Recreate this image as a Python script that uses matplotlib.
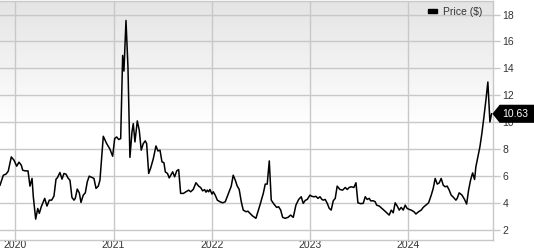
import matplotlib
matplotlib.use("Agg")
import matplotlib.pyplot as plt
import numpy as np
from matplotlib.patches import Polygon, Rectangle
from matplotlib.transforms import blended_transform_factory

# weekly price readings (decimal year, $)
years = [
    2019.844, 2019.878, 2019.905, 2019.928, 2019.959, 2019.986, 2020.014, 2020.037,
    2020.061, 2020.075, 2020.101, 2020.129, 2020.149, 2020.170, 2020.183, 2020.207,
    2020.228, 2020.244, 2020.264, 2020.299, 2020.322, 2020.346, 2020.370, 2020.393,
    2020.414, 2020.427, 2020.454, 2020.475, 2020.495, 2020.515, 2020.539, 2020.556,
    2020.576, 2020.597, 2020.610, 2020.630, 2020.651, 2020.668, 2020.691, 2020.712,
    2020.732, 2020.752, 2020.780, 2020.800, 2020.821, 2020.844, 2020.861, 2020.895,
    2020.927, 2020.963, 2020.990, 2021.011, 2021.031, 2021.052, 2021.072, 2021.092,
    2021.105, 2021.126, 2021.146, 2021.166, 2021.187, 2021.200, 2021.217, 2021.241,
    2021.261, 2021.281, 2021.302, 2021.322, 2021.336, 2021.357, 2021.377, 2021.404,
    2021.431, 2021.451, 2021.472, 2021.492, 2021.512, 2021.526, 2021.548, 2021.566,
    2021.584, 2021.601, 2021.621, 2021.642, 2021.662, 2021.682, 2021.711, 2021.736,
    2021.764, 2021.784, 2021.810, 2021.838, 2021.865, 2021.886, 2021.906, 2021.926,
    2021.940, 2021.953, 2021.967, 2021.980, 2022.001, 2022.014, 2022.034, 2022.055,
    2022.082, 2022.110, 2022.136, 2022.171, 2022.197, 2022.217, 2022.238, 2022.258,
    2022.278, 2022.299, 2022.319, 2022.347, 2022.367, 2022.387, 2022.415, 2022.448,
    2022.469, 2022.489, 2022.523, 2022.543, 2022.563, 2022.584, 2022.604, 2022.631,
    2022.659, 2022.679, 2022.700, 2022.720, 2022.746, 2022.774, 2022.801, 2022.828,
    2022.855, 2022.883, 2022.909, 2022.929, 2022.950, 2022.970, 2022.998, 2023.018,
    2023.038, 2023.059, 2023.079, 2023.100, 2023.120, 2023.133, 2023.153, 2023.174,
    2023.194, 2023.214, 2023.235, 2023.255, 2023.275, 2023.303, 2023.330, 2023.357,
    2023.377, 2023.397, 2023.418, 2023.445, 2023.466, 2023.486, 2023.513, 2023.540,
    2023.560, 2023.580, 2023.601, 2023.615, 2023.642, 2023.662, 2023.676, 2023.703,
    2023.730, 2023.757, 2023.784, 2023.804, 2023.825, 2023.845, 2023.865, 2023.886,
    2023.906, 2023.926, 2023.947, 2023.967, 2023.987, 2024.008, 2024.028, 2024.056,
    2024.076, 2024.103, 2024.130, 2024.150, 2024.178, 2024.205, 2024.232, 2024.252,
    2024.272, 2024.293, 2024.313, 2024.333, 2024.354, 2024.374, 2024.394, 2024.415,
    2024.435, 2024.455, 2024.483, 2024.496, 2024.516, 2024.544, 2024.571, 2024.592,
    2024.612, 2024.632, 2024.653, 2024.673, 2024.686, 2024.707, 2024.727, 2024.747,
    2024.768, 2024.788, 2024.808, 2024.829, 2024.846,
]
prices = [
    5.33, 6.07, 6.15, 6.37, 7.43, 7.19, 6.74, 7.04,
    6.81, 6.44, 6.39, 6.39, 5.26, 5.83, 4.47, 2.81,
    3.60, 3.24, 3.73, 4.35, 3.78, 4.22, 4.22, 4.52,
    5.78, 5.87, 6.27, 5.78, 6.20, 6.15, 5.83, 5.70,
    4.42, 4.22, 4.35, 5.04, 4.76, 4.05, 4.59, 4.76,
    5.58, 6.00, 5.90, 5.83, 5.09, 5.26, 5.70, 8.96,
    8.45, 8.00, 7.48, 8.79, 8.91, 8.72, 8.79, 14.96,
    13.80, 17.56, 14.10, 7.39, 9.28, 9.90, 8.54, 10.10,
    9.41, 7.93, 8.42, 8.62, 8.42, 6.20, 6.60, 7.30,
    8.24, 7.87, 7.93, 7.06, 7.00, 6.32, 6.20, 5.87,
    6.10, 6.32, 5.95, 6.39, 6.49, 4.72, 4.72, 4.84,
    4.96, 4.84, 5.01, 5.51, 5.26, 5.15, 4.91, 5.00,
    4.81, 4.96, 4.84, 5.01, 4.67, 4.84, 4.59, 4.22,
    4.10, 4.02, 4.10, 4.76, 5.26, 6.07, 5.70, 5.26,
    5.01, 4.10, 3.48, 3.36, 3.40, 3.24, 3.04, 2.87,
    3.36, 3.85, 4.72, 5.41, 5.41, 7.13, 4.22, 3.93,
    3.68, 3.73, 3.48, 2.94, 2.87, 2.94, 3.11, 2.94,
    3.85, 4.27, 4.47, 3.98, 4.20, 4.27, 4.59, 4.50,
    4.47, 4.50, 4.35, 4.47, 4.27, 4.22, 4.27, 3.98,
    3.61, 3.48, 4.17, 4.35, 5.26, 5.01, 4.96, 5.16,
    5.01, 5.16, 5.21, 5.16, 5.51, 4.02, 3.96, 3.98,
    4.47, 4.27, 4.35, 4.17, 4.17, 4.10, 3.85, 3.78,
    3.61, 3.43, 3.24, 3.11, 3.48, 3.28, 4.02, 3.78,
    3.48, 3.68, 3.48, 3.85, 3.60, 3.53, 3.48, 3.36,
    3.19, 3.36, 3.48, 3.68, 3.85, 4.02, 4.59, 5.09,
    5.83, 5.41, 5.50, 5.83, 5.33, 5.21, 5.26, 4.96,
    4.59, 4.45, 4.22, 4.35, 4.76, 4.60, 4.27, 3.93,
    4.96, 5.70, 6.24, 5.75, 6.69, 7.43, 8.17, 9.16,
    10.39, 11.63, 12.99, 10.02, 10.63,
]
year_ticks = [2020, 2021, 2022, 2023, 2024]
price_ticks = [2, 4, 6, 8, 10, 12, 14, 16, 18]
last_price = 10.63

plt.rcParams["font.family"] = ["Liberation Sans", "DejaVu Sans"]
grid_col = "#c8c8c8"
text_col = "#333333"

fig = plt.figure(figsize=(5.34, 2.5), dpi=100)
ax = fig.add_axes([0.0, 0.04, 0.9226, 0.958])
ax.set_xlim(2019.844, 2024.857)
ax.set_ylim(1.26, 19.04)

# grey-to-white gradient in the top half of the plot
grad = np.linspace(0.895, 1.0, 200)
grad = np.concatenate([grad, np.ones(180)])[:, None]
ax.imshow(np.dstack([grad, grad, grad]), extent=[0, 1, 0, 1],
          transform=ax.transAxes, aspect="auto", zorder=0, origin="upper")

ax.plot(years, prices, color="black", lw=1.1, zorder=3)

ax.set_xticks(year_ticks)
ax.set_xticklabels([str(y) for y in year_ticks])
ax.set_yticks(price_ticks)
ax.grid(True, color=grid_col, lw=1.0, zorder=1)
ax.set_axisbelow(True)
ax.yaxis.tick_right()
ax.tick_params(axis="y", length=5, width=1.0, color=grid_col, pad=2,
               labelsize=7.5, labelcolor=text_col)
ax.tick_params(axis="x", length=0, pad=0.3, labelsize=7.5, labelcolor=text_col)
for side in ["top", "right", "bottom"]:
    ax.spines[side].set_color(grid_col)
    ax.spines[side].set_linewidth(1.0)
ax.spines["left"].set_visible(False)

# legend
fig.patches.append(Rectangle((428.3 / 534, 1 - 12.7 / 250), 8.4 / 534, 3.4 / 250,
                             transform=fig.transFigure, color="black"))
fig.text(442.7 / 534, 1 - 12 / 250, "Price ($)", fontsize=7.5, color=text_col,
         va="center", ha="left")

# last price tag
tr = blended_transform_factory(fig.transFigure, ax.transData)
h = 0.62
tag = Polygon([(493.3 / 534, last_price), (500 / 534, last_price + h), (1.0, last_price + h),
               (1.0, last_price - h), (500 / 534, last_price - h)],
              closed=True, transform=tr, color="black", clip_on=False, zorder=10)
fig.patches.append(tag)
fig.text(502 / 534, last_price, f"{last_price:.2f}", transform=tr, color="white",
         fontsize=7.5, va="center", ha="left", zorder=11)

fig.savefig("out.png", dpi=100)
